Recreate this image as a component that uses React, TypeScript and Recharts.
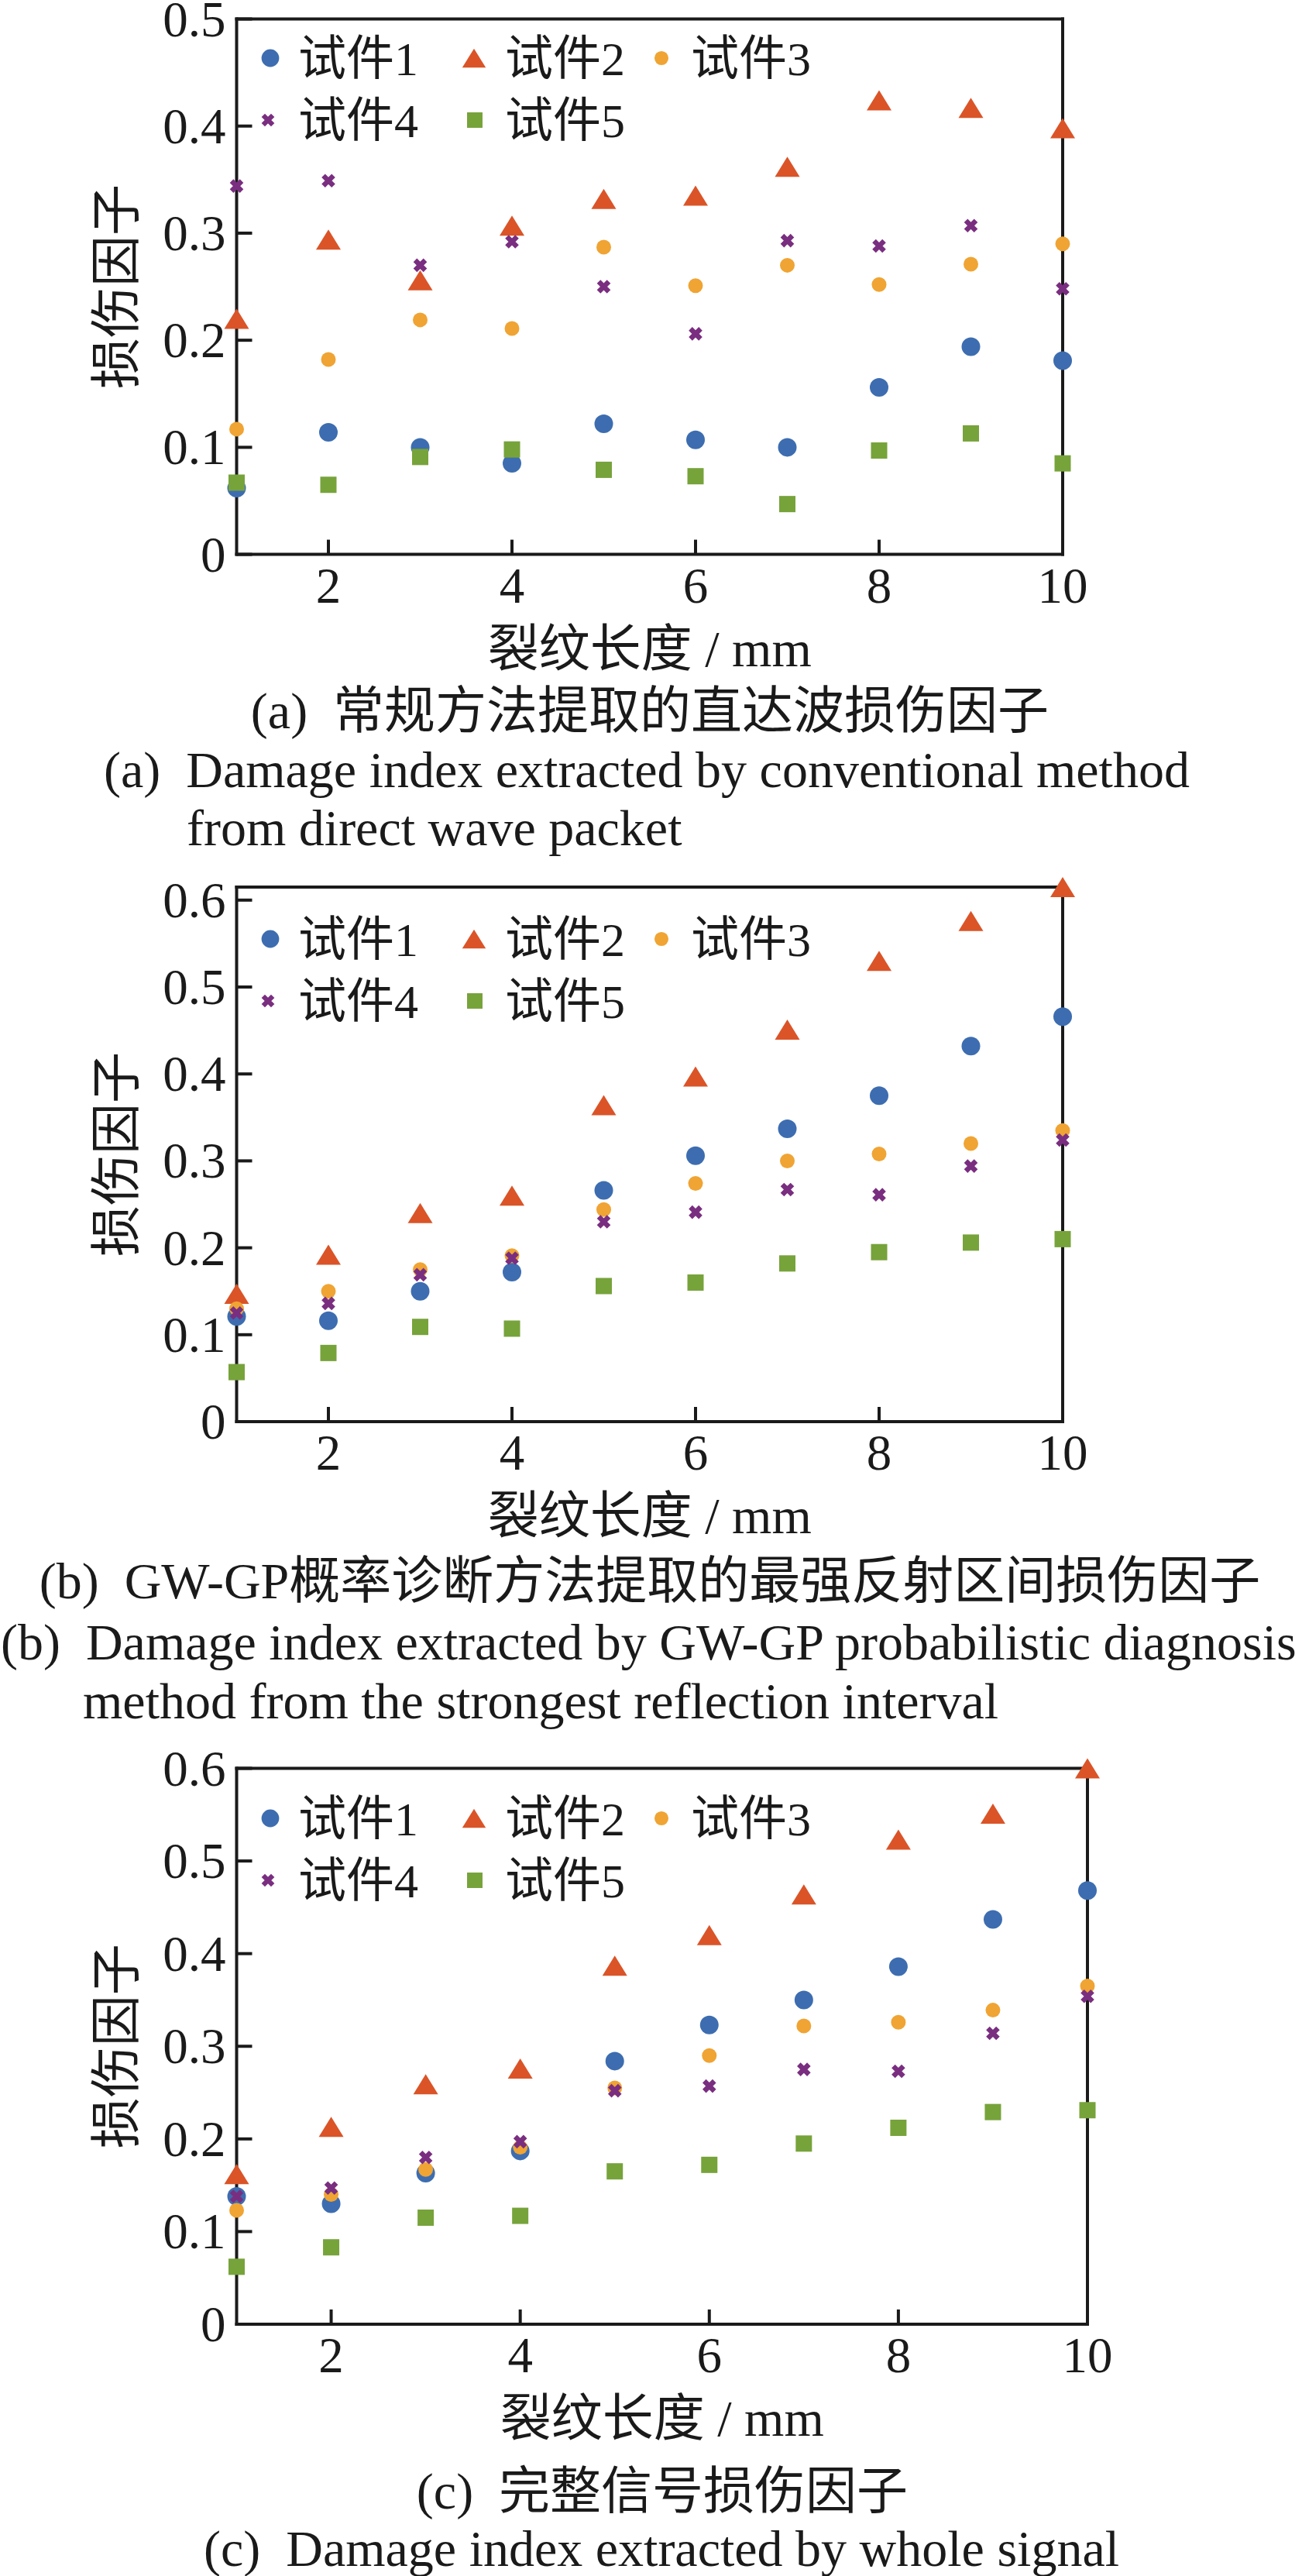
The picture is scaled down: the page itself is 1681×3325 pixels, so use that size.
import React from 'react'
import { ScatterChart, Scatter, XAxis, YAxis, Legend, Label } from 'recharts'

const crackLength = [1, 2, 3, 4, 5, 6, 7, 8, 9, 10]
const xTicks = [2, 4, 6, 8, 10]
const specimenNames = ['试件1', '试件2', '试件3', '试件4', '试件5']

// (a) conventional method, direct wave packet
const a1 = [0.062, 0.114, 0.100, 0.085, 0.122, 0.107, 0.100, 0.156, 0.194, 0.181]
const a2 = [0.220, 0.294, 0.256, 0.307, 0.332, 0.335, 0.362, 0.424, 0.417, 0.398]
const a3 = [0.117, 0.182, 0.219, 0.211, 0.287, 0.251, 0.270, 0.252, 0.271, 0.290]
const a4 = [0.344, 0.349, 0.270, 0.292, 0.250, 0.206, 0.293, 0.288, 0.307, 0.248]
const a5 = [0.067, 0.065, 0.091, 0.098, 0.079, 0.073, 0.047, 0.097, 0.113, 0.085]

// (b) GW-GP, strongest reflection interval
const b1 = [0.121, 0.116, 0.150, 0.172, 0.266, 0.306, 0.337, 0.375, 0.432, 0.466]
const b2 = [0.147, 0.192, 0.240, 0.260, 0.364, 0.397, 0.451, 0.530, 0.576, 0.615]
const b3 = [0.130, 0.150, 0.175, 0.191, 0.244, 0.274, 0.300, 0.308, 0.320, 0.335]
const b4 = [0.125, 0.136, 0.169, 0.188, 0.230, 0.241, 0.267, 0.261, 0.294, 0.324]
const b5 = [0.057, 0.079, 0.109, 0.107, 0.156, 0.160, 0.182, 0.195, 0.206, 0.210]

// (c) whole signal
const c1 = [0.138, 0.130, 0.163, 0.187, 0.284, 0.323, 0.350, 0.386, 0.437, 0.468]
const c2 = [0.162, 0.213, 0.259, 0.276, 0.387, 0.420, 0.464, 0.523, 0.551, 0.600]
const c3 = [0.123, 0.140, 0.167, 0.191, 0.255, 0.290, 0.322, 0.326, 0.339, 0.365]
const c4 = [0.138, 0.147, 0.180, 0.197, 0.252, 0.257, 0.275, 0.273, 0.314, 0.354]
const c5 = [0.062, 0.083, 0.115, 0.117, 0.165, 0.172, 0.195, 0.212, 0.229, 0.231]

const yTicksA = [0, 0.1, 0.2, 0.3, 0.4, 0.5]
const yTicksBC = [0, 0.1, 0.2, 0.3, 0.4, 0.5, 0.6]

const SERIF = '"Liberation Serif", "Times New Roman", serif'
const FONT = '"Liberation Serif", "Times New Roman", "Noto Sans CJK SC", serif'
const INK = '#1a1a1a'
const COLORS = ['#3d6db0', '#da5428', '#f0a433', '#7a2e80', '#77a33b']
const PLOT_LEFT = 305.5
const Y_AXIS_W = 300
const X_AXIS_H = 160

const Marker = ({ kind, cx, cy, s = 1 }: any) => {
  const c = COLORS[kind]
  if (cx == null || cy == null) return null
  switch (kind) {
    case 0:
      return <circle cx={cx} cy={cy} r={12 * s} fill={c} />
    case 1: {
      const w = 16 * s, h = 13 * s
      return <polygon points={`${cx},${cy - h} ${cx + w},${cy + h} ${cx - w},${cy + h}`} fill={c} />
    }
    case 2:
      return <circle cx={cx} cy={cy} r={9.5 * s} fill={c} />
    case 3: {
      const d = 6.5 * s
      return (
        <path
          d={`M${cx - d},${cy - d}L${cx + d},${cy + d}M${cx + d},${cy - d}L${cx - d},${cy + d}`}
          stroke={c} strokeWidth={6.5 * s} strokeLinecap="butt"
        />
      )
    }
    default:
      return <rect x={cx - 10.5 * s} y={cy - 10.5 * s} width={21 * s} height={21 * s} fill={c} />
  }
}

// legend slots, relative to legend wrapper at left 300
const legendMarkX = [49, 312, 554, 46, 313]
const legendTextX = [85, 352, 592, 85, 352]
const LEGEND_FS = 62

const LegendBox = ({ payload }: any) => {
  const items = payload && payload.length ? payload : specimenNames.map((v) => ({ value: v }))
  return (
    <svg width={800} height={170} style={{ display: 'block', overflow: 'visible' }}>
      {items.map((it: any, i: number) => {
        const cy = i < 3 ? 40 : 120
        const label = String(it.value)
        const head = label.replace(/\d+$/, '')
        const num = label.slice(head.length)
        return (
          <g key={i}>
            <Marker kind={i} cx={legendMarkX[i]} cy={cy} s={0.95} />
            <text x={legendTextX[i]} y={cy + 22} fontFamily={FONT} fontSize={LEGEND_FS} fill={INK}>{head}</text>
            <text x={legendTextX[i] + head.length * LEGEND_FS} y={cy + 22} fontFamily={SERIF} fontSize={LEGEND_FS} fill={INK}>{num}</text>
          </g>
        )
      })}
    </svg>
  )
}

const YTick = ({ x, y, payload }: any) => (
  <g>
    <line x1={x} y1={y} x2={x + 20} y2={y} stroke={INK} strokeWidth={4} />
    <text x={x - 14} y={y} textAnchor="end" dominantBaseline="central" fontFamily={SERIF} fontSize={65} fill={INK}>
      {payload.value === 0 ? '0' : Number(payload.value).toFixed(1)}
    </text>
  </g>
)

const XTick = ({ x, y, payload }: any) => (
  <g>
    <line x1={x} y1={y} x2={x} y2={y - 19} stroke={INK} strokeWidth={4} />
    <text x={x} y={y + 62} textAnchor="middle" fontFamily={SERIF} fontSize={65} fill={INK}>
      {payload.value}
    </text>
  </g>
)

const axisLineStyle = { stroke: INK, strokeWidth: 4, strokeLinecap: 'square' as const }

function Panel({ top, height, plotTop, plotBottom, plotRight, yMax, yTicks, series, legendTop }: any) {
  const data = series.map((vals: number[]) => crackLength.map((x, i) => ({ x, y: vals[i] })))
  return (
    <div style={{ position: 'absolute', left: 0, top }}>
      <ScatterChart
        width={1681}
        height={height}
        margin={{ top: plotTop, right: 1681 - plotRight, bottom: height - plotBottom - X_AXIS_H, left: PLOT_LEFT - Y_AXIS_W }}
      >
        <XAxis
          dataKey="x" type="number" domain={[1, 10]} ticks={xTicks} height={X_AXIS_H}
          tickSize={0} tickMargin={0} tickLine={false} tick={<XTick />} axisLine={axisLineStyle}
        >
          <Label
            content={(p: any) => {
              const vb = p.viewBox
              return (
                <text x={vb.x + vb.width / 2} y={vb.y + 144} textAnchor="middle" fontFamily={FONT} fontSize={66} fill={INK}>
                  裂纹长度 / mm
                </text>
              )
            }}
          />
        </XAxis>
        <YAxis
          dataKey="y" type="number" domain={[0, yMax]} ticks={yTicks} width={Y_AXIS_W}
          tickSize={0} tickMargin={0} tickLine={false} tick={<YTick />} axisLine={axisLineStyle}
        >
          <Label
            content={(p: any) => {
              const vb = p.viewBox
              const cx = vb.x + vb.width - 155
              const cy = vb.y + vb.height / 2
              return (
                <text x={cx} y={cy} transform={`rotate(-90 ${cx} ${cy})`} textAnchor="middle" dominantBaseline="central" fontFamily={FONT} fontSize={66} fill={INK}>
                  损伤因子
                </text>
              )
            }}
          />
        </YAxis>
        <XAxis xAxisId="top" orientation="top" mirror type="number" domain={[1, 10]} tick={false} tickLine={false} axisLine={axisLineStyle} />
        <YAxis yAxisId="right" orientation="right" mirror type="number" domain={[0, yMax]} tick={false} tickLine={false} axisLine={axisLineStyle} />
        <Legend
          layout="horizontal" verticalAlign="middle" align="center"
          wrapperStyle={{ left: 300, top: legendTop - 40, width: 800, height: 170 }}
          content={<LegendBox />}
        />
        {data.map((d: any, i: number) => (
          <Scatter
            key={i}
            name={specimenNames[i]}
            data={d}
            fill={COLORS[i]}
            isAnimationActive={false}
            shape={(p: any) => <Marker kind={i} cx={p.cx} cy={p.cy} />}
          />
        ))}
      </ScatterChart>
    </div>
  )
}

const Caption = ({ x, y, anchor = 'start', text }: any) => (
  <text x={x} y={y} textAnchor={anchor} fontFamily={FONT} fontSize={66} fill={INK} style={{ whiteSpace: 'pre' }}>
    {text}
  </text>
)

export default function App() {
  return (
    <div style={{ position: 'absolute', left: 0, top: 0, width: 1681, height: 3325, background: '#fff', overflow: 'hidden' }}>
      <Panel
        top={0} height={900} plotTop={24.5} plotBottom={715.6} plotRight={1372}
        yMax={0.5} yTicks={yTicksA} series={[a1, a2, a3, a4, a5]} legendTop={75}
      />
      <Panel
        top={1100} height={900} plotTop={45} plotBottom={735} plotRight={1372}
        yMax={0.615} yTicks={yTicksBC} series={[b1, b2, b3, b4, b5]} legendTop={112}
      />
      <Panel
        top={2200} height={1000} plotTop={82.5} plotBottom={800} plotRight={1404}
        yMax={0.6} yTicks={yTicksBC} series={[c1, c2, c3, c4, c5]} legendTop={147}
      />
      <svg width={1681} height={3325} style={{ position: 'absolute', left: 0, top: 0, pointerEvents: 'none' }}>
        <Caption x={839} y={940} anchor="middle" text="(a)  常规方法提取的直达波损伤因子" />
        <Caption x={134} y={1016} text="(a)  Damage index extracted by conventional method" />
        <Caption x={241} y={1091} text="from direct wave packet" />

        <Caption x={839} y={2063} anchor="middle" text="(b)  GW-GP概率诊断方法提取的最强反射区间损伤因子" />
        <Caption x={1} y={2142} text="(b)  Damage index extracted by GW-GP probabilistic diagnosis" />
        <Caption x={107} y={2218} text="method from the strongest reflection interval" />

        <Caption x={855} y={3238} anchor="middle" text="(c)  完整信号损伤因子" />
        <Caption x={263} y={3312} text="(c)  Damage index extracted by whole signal" />
      </svg>
    </div>
  )
}
